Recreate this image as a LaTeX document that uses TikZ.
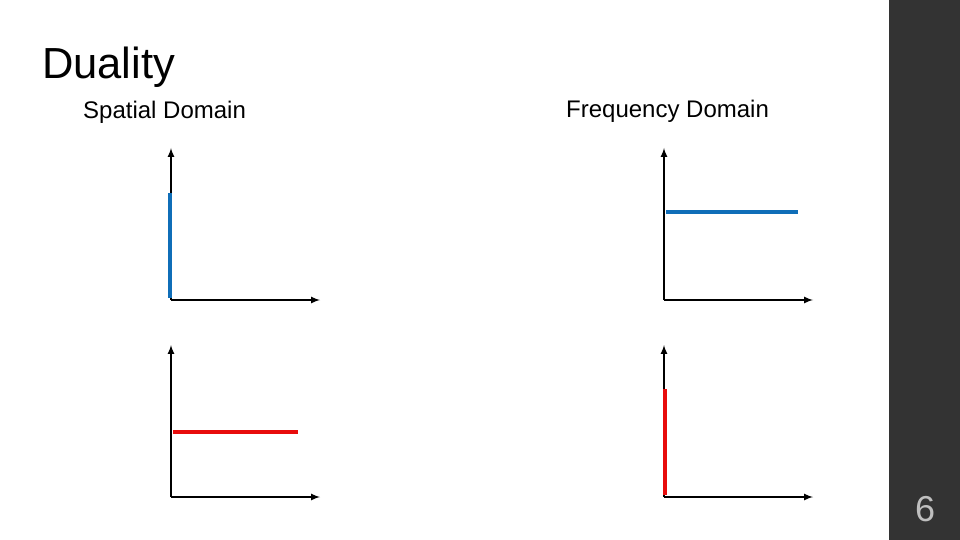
\documentclass[tikz,border=0pt]{standalone}
\usepackage{fontspec}
\setmainfont{Liberation Sans}
\begin{document}
\begin{tikzpicture}[x=1pt,y=-1pt,
  axis/.style={line width=2pt,-latex},
  sig/.style={line width=4pt},
  lbl/.style={anchor=west,inner sep=0pt,font=\fontsize{24}{28}\selectfont}]
\definecolor{sigblue}{HTML}{0F6EB8}
\definecolor{sigred}{HTML}{E80C0C}
\useasboundingbox (0,0) rectangle (960,540);
\fill[white] (0,0) rectangle (960,540);
\fill[black!80] (889,0) rectangle (960,540);
\node[text=black!25,font=\fontsize{36}{42}\selectfont] (num) at (925,509) {6};
\node[anchor=west,inner sep=0pt,font=\fontsize{43.5}{50}\selectfont] (title) at (42,67) {Duality};
\node[lbl] (sp) at (83,112) {Spatial Domain};
\node[lbl] (fr) at (566,111) {Frequency Domain};
% axes
\foreach \n/\ox/\oy in {a/171/300,b/664/300,c/171/497,d/664/497}{
  \coordinate (\n o) at (\ox,\oy);
  \coordinate (\n y) at (\ox,\oy-152);
  \coordinate (\n x) at (\ox+149,\oy);
  \draw[axis] (\n o) -- (\n y);
  \draw[axis] (\n o) -- (\n x);
}
% signals
\coordinate (s1a) at (170,193); \coordinate (s1b) at (170,298);
\draw[sig,sigblue] (s1a) -- (s1b);
\coordinate (s2a) at (666,212); \coordinate (s2b) at (798,212);
\draw[sig,sigblue] (s2a) -- (s2b);
\coordinate (s3a) at (173,432); \coordinate (s3b) at (298,432);
\draw[sig,sigred] (s3a) -- (s3b);
\coordinate (s4a) at (665,389); \coordinate (s4b) at (665,495);
\draw[sig,sigred] (s4a) -- (s4b);
\end{tikzpicture}
\end{document}
